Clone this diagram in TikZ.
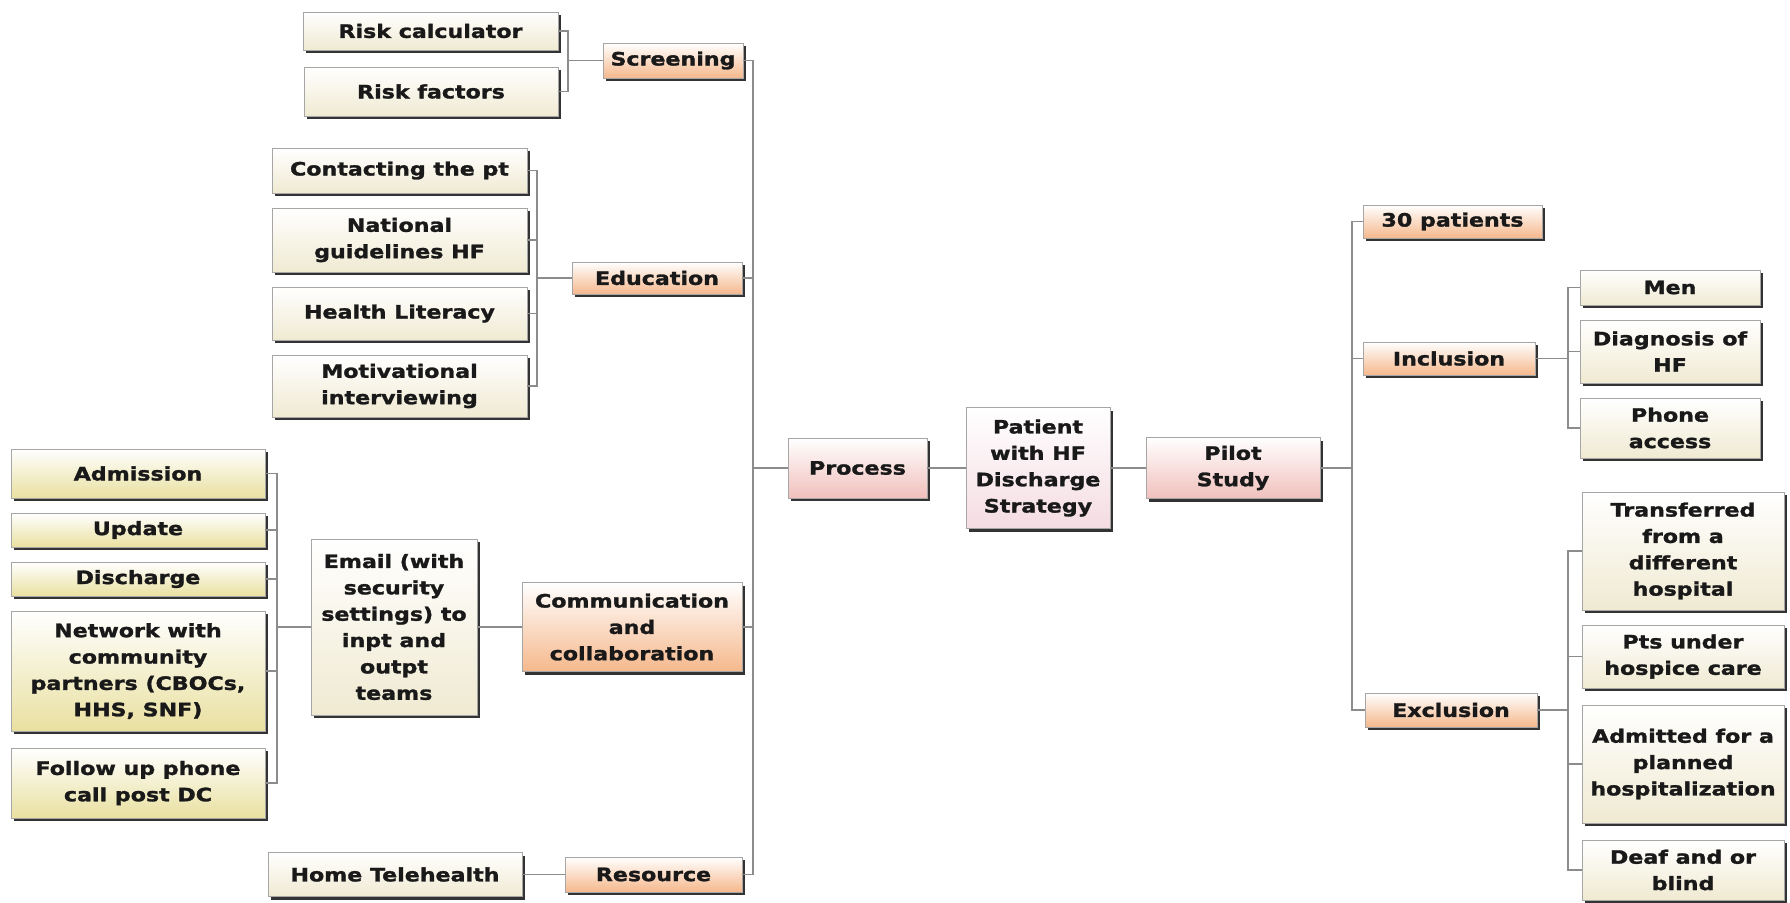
\documentclass[tikz,border=0pt]{standalone}
\usepackage{fontspec}
\setmainfont{DejaVu Sans}[FakeStretch=1.2, BoldFeatures={FakeBold=1.5}]
\usetikzlibrary{shadows}

\definecolor{cream}{HTML}{F0EAD2}
\definecolor{straw}{HTML}{E9E0A0}
\definecolor{peach}{HTML}{F5B88C}
\definecolor{blush}{HTML}{F0C0BC}
\definecolor{rosewhite}{HTML}{F4DCE2}

\begin{document}
\begin{tikzpicture}[x=0.02cm,y=-0.02cm]
            \tikzstyle{box}=[rectangle, draw=black!35, thin, align=center, inner sep=1pt,
                font=\fontsize{10.5}{15}\selectfont\bfseries, text=black!90,
                drop shadow={shadow xshift=1.8pt, shadow yshift=-1.8pt, fill=black!80, opacity=1}]
            \tikzstyle{leaf}=[box, top color=white, bottom color=cream]
            \tikzstyle{strawleaf}=[box, top color=white, bottom color=straw]
            \tikzstyle{branch}=[box, top color=white, bottom color=peach]
            \tikzstyle{hub}=[box, top color=white, bottom color=blush]
            \tikzstyle{core}=[box, top color=white, bottom color=rosewhite]
            \tikzstyle{link}=[draw=black!45, line width=0.8pt]

            \useasboundingbox (0,0) rectangle (1790,902);

            % screening
            \node[leaf, minimum width=5.10cm, minimum height=0.76cm] (riskcalc) at (430.5,31) {Risk calculator};
            \node[leaf, minimum width=5.08cm, minimum height=0.98cm] (riskfac) at (431,91.5) {Risk factors};
            \node[branch, minimum width=2.80cm, minimum height=0.70cm] (screening) at (673,60.5) {Screening};

            % education
            \node[leaf, minimum width=5.10cm, minimum height=0.90cm] (contact) at (399.5,170.5) {Contacting the pt};
            \node[leaf, minimum width=5.10cm, minimum height=1.28cm] (national) at (399.5,240) {National\\guidelines HF};
            \node[leaf, minimum width=5.10cm, minimum height=1.06cm] (literacy) at (399.5,313.5) {Health Literacy};
            \node[leaf, minimum width=5.10cm, minimum height=1.24cm] (motiv) at (399.5,386) {Motivational\\interviewing};
            \node[branch, minimum width=3.40cm, minimum height=0.64cm] (education) at (657,278) {Education};

            % communication
            \node[strawleaf, minimum width=5.08cm, minimum height=0.98cm] (admission) at (138,473.5) {Admission};
            \node[strawleaf, minimum width=5.08cm, minimum height=0.68cm] (update) at (138,530) {Update};
            \node[strawleaf, minimum width=5.08cm, minimum height=0.68cm] (discharge) at (138,579) {Discharge};
            \node[strawleaf, minimum width=5.08cm, minimum height=2.40cm] (network) at (138,671) {Network with\\community\\partners (CBOCs,\\HHS, SNF)};
            \node[strawleaf, minimum width=5.08cm, minimum height=1.40cm] (followup) at (138,783) {Follow up phone\\call post DC};
            \node[leaf, minimum width=3.32cm, minimum height=3.52cm] (email) at (394,627) {Email (with\\security\\settings) to\\inpt and\\outpt\\teams};
            \node[branch, minimum width=4.40cm, minimum height=1.78cm] (comm) at (632,627) {Communication\\and\\collaboration};

            % resource
            \node[leaf, minimum width=5.08cm, minimum height=0.88cm] (telehealth) at (395,874.5) {Home Telehealth};
            \node[branch, minimum width=3.54cm, minimum height=0.70cm] (resource) at (653.5,874.5) {Resource};

            % centre
            \node[hub, minimum width=2.78cm, minimum height=1.20cm] (process) at (857.5,468) {Process};
            \node[core, minimum width=2.88cm, minimum height=2.42cm] (patient) at (1038,468) {Patient\\with HF\\Discharge\\Strategy};
            \node[hub, minimum width=3.48cm, minimum height=1.22cm] (pilot) at (1233,468) {Pilot\\Study};

            % pilot study
            \node[branch, minimum width=3.58cm, minimum height=0.66cm] (thirty) at (1452.5,221.5) {30 patients};
            \node[branch, minimum width=3.44cm, minimum height=0.66cm] (inclusion) at (1449,358.5) {Inclusion};
            \node[branch, minimum width=3.44cm, minimum height=0.68cm] (exclusion) at (1451,710) {Exclusion};

            % inclusion
            \node[leaf, minimum width=3.60cm, minimum height=0.70cm] (men) at (1670,287.5) {Men};
            \node[leaf, minimum width=3.60cm, minimum height=1.26cm] (diagnosis) at (1670,351.5) {Diagnosis of\\HF};
            \node[leaf, minimum width=3.60cm, minimum height=1.20cm] (phone) at (1670,428) {Phone\\access};

            % exclusion
            \node[leaf, minimum width=4.04cm, minimum height=2.36cm] (transferred) at (1683,551) {Transferred\\from a\\different\\hospital};
            \node[leaf, minimum width=4.04cm, minimum height=1.26cm] (pts) at (1683,656.5) {Pts under\\hospice care};
            \node[leaf, minimum width=4.04cm, minimum height=2.36cm] (admitted) at (1683,764) {Admitted for a\\planned\\hospitalization};
            \node[leaf, minimum width=4.04cm, minimum height=1.20cm] (deaf) at (1683,870) {Deaf and or\\blind};

            % bus points
            \coordinate (scrbus) at (568,60.5);
            \coordinate (edubus) at (537,278);
            \coordinate (combus) at (277,627);
            \coordinate (procbus) at (753,468);
            \coordinate (pilotbus) at (1352,468);
            \coordinate (inclbus) at (1568,358.5);
            \coordinate (exclbus) at (1568,710);

            % screening wires
            \draw[link] (riskcalc.east) -| (scrbus);
            \draw[link] (riskfac.east) -| (scrbus) -- (screening.west);

            % education wires
            \draw[link] (contact.east) -| (edubus);
            \draw[link] (national.east) -| (edubus);
            \draw[link] (literacy.east) -| (edubus);
            \draw[link] (motiv.east) -| (edubus) -- (education.west);

            % communication wires
            \draw[link] (admission.east) -| (combus);
            \draw[link] (update.east) -| (combus);
            \draw[link] (discharge.east) -| (combus);
            \draw[link] (network.east) -| (combus);
            \draw[link] (followup.east) -| (combus) -- (email.west);
            \draw[link] (email.east) -- (comm.west);

            % resource wire
            \draw[link] (telehealth.east) -- (resource.west);

            % process trunk
            \draw[link] (screening.east) -| (procbus);
            \draw[link] (education.east) -| (procbus);
            \draw[link] (comm.east) -| (procbus);
            \draw[link] (resource.east) -| (procbus) -- (process.west);

            % centre wires
            \draw[link] (process.east) -- (patient.west);
            \draw[link] (patient.east) -- (pilot.west);

            % pilot trunk
            \draw[link] (thirty.west) -| (pilotbus);
            \draw[link] (inclusion.west) -| (pilotbus);
            \draw[link] (exclusion.west) -| (pilotbus) -- (pilot.east);

            % inclusion wires
            \draw[link] (men.west) -| (inclbus);
            \draw[link] (diagnosis.west) -| (inclbus);
            \draw[link] (phone.west) -| (inclbus) -- (inclusion.east);

            % exclusion wires
            \draw[link] (transferred.west) -| (exclbus);
            \draw[link] (pts.west) -| (exclbus);
            \draw[link] (admitted.west) -| (exclbus);
            \draw[link] (deaf.west) -| (exclbus) -- (exclusion.east);
        \end{tikzpicture}
\end{document}
